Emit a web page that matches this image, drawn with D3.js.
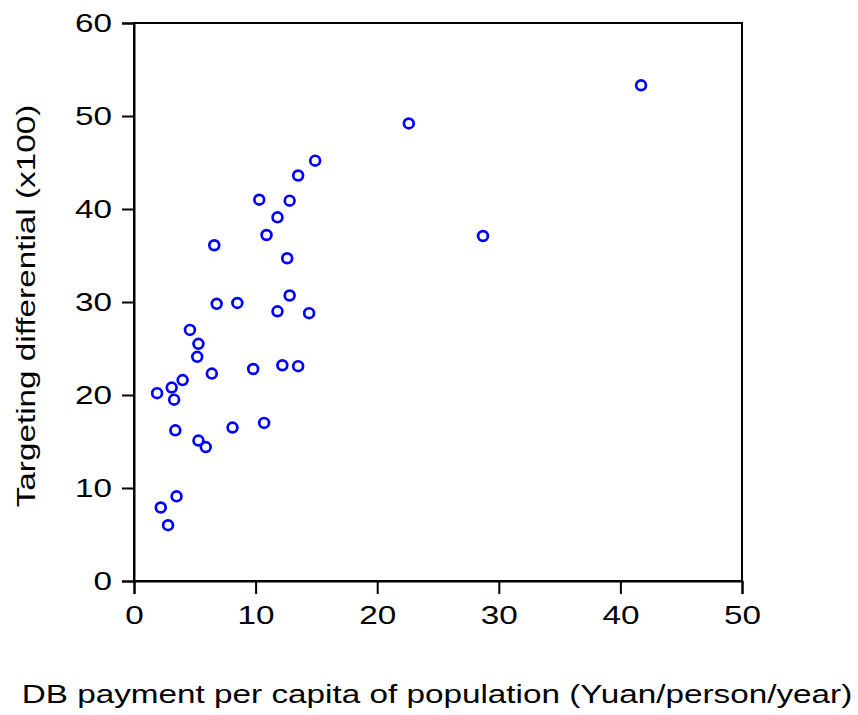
<!DOCTYPE html>
<html>
<head>
<meta charset="utf-8">
<script src="https://cdn.jsdelivr.net/npm/d3@7"></script>
<style>
  body { margin: 0; background: #fff; }
  text { font-family: "Liberation Sans", Arial, sans-serif; fill: #000; }
</style>
</head>
<body>
<svg id="graph" width="858" height="715"></svg>
<script>
// DB payment per capita (x) and targeting differential (y)
var dbPayment = [41.7, 22.6, 28.7, 14.9, 13.5, 10.3, 12.8, 11.8, 10.9, 6.6,
  12.6, 12.8, 8.5, 6.8, 11.8, 14.4, 4.6, 5.3, 5.2, 12.2,
  13.5, 9.8, 6.4, 4.0, 3.1, 1.9, 3.3, 10.7, 8.1, 3.4,
  5.3, 5.9, 3.5, 2.2, 2.8];
var targetDiff = [53.3, 49.2, 37.1, 45.2, 43.6, 41.0, 40.9, 39.1, 37.2, 36.1,
  34.7, 30.7, 29.9, 29.8, 29.0, 28.8, 27.0, 25.5, 24.1, 23.2,
  23.1, 22.8, 22.3, 21.6, 20.8, 20.2, 19.5, 17.0, 16.5, 16.2,
  15.1, 14.4, 9.1, 7.9, 6.0];
var xTicks = [0, 10, 20, 30, 40, 50];
var yTicks = [0, 10, 20, 30, 40, 50, 60];

var margin = { top: 23, right: 116, bottom: 134, left: 134 }
  , width = 858 - margin.left - margin.right
  , height = 715 - margin.top - margin.bottom;

var stretch = 1.28; // the original text is drawn wide

var xScale = d3.scaleLinear().domain([0, 50]).range([0, width]);
var yScale = d3.scaleLinear().domain([0, 60]).range([height, 0]);

var svg = d3.select("#graph")
  .append("g")
  .attr("transform", "translate(" + margin.left + "," + margin.top + ")");

// frame
svg.append("rect")
  .attr("width", width)
  .attr("height", height)
  .attr("fill", "none")
  .attr("stroke", "#000")
  .attr("stroke-width", 2);

var xAxis = svg.append("g")
  .attr("transform", "translate(0," + height + ")")
  .call(d3.axisBottom(xScale).tickValues(xTicks).tickSize(13).tickPadding(12).tickFormat(d3.format("d")));

var yAxis = svg.append("g")
  .call(d3.axisLeft(yScale).tickValues(yTicks).tickSize(12).tickPadding(10).tickFormat(d3.format("d")));

[xAxis, yAxis].forEach(function (a) {
  a.select(".domain").attr("stroke-width", 2);
  a.selectAll(".tick line").attr("stroke-width", 2);
  a.selectAll(".tick text")
    .style("font-size", "26px")
    .attr("fill", "#000")
    .attr("transform", "scale(" + stretch + ",1)");
});
yAxis.selectAll(".tick text").attr("x", -22 / stretch);

// points
svg.selectAll(".dot")
  .data(dbPayment)
  .enter().append("circle")
  .attr("class", "dot")
  .attr("cx", function (d) { return xScale(d); })
  .attr("cy", function (d, i) { return yScale(targetDiff[i]); })
  .attr("r", 4.9)
  .attr("fill", "none")
  .attr("stroke", "#0000ff")
  .attr("stroke-width", 2.7);

// axis titles
svg.append("text")
  .attr("transform", "translate(" + (437 - margin.left) + "," + (703 - margin.top) + ") scale(" + stretch + ",1)")
  .attr("text-anchor", "middle")
  .style("font-size", "26px")
  .text("DB payment per capita of population (Yuan/person/year)");

svg.append("text")
  .attr("transform", "translate(" + (35 - margin.left) + "," + (306 - margin.top) + ") rotate(-90) scale(" + stretch + ",1)")
  .attr("text-anchor", "middle")
  .style("font-size", "26px")
  .text("Targeting differential (x100)");
</script>
</body>
</html>
